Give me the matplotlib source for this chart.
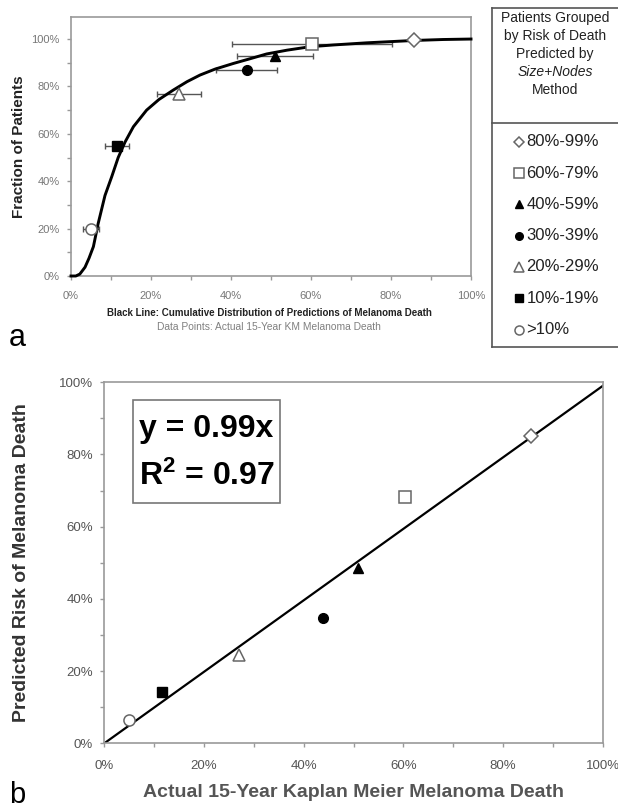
import matplotlib
matplotlib.use("Agg")
import matplotlib.pyplot as plt
from matplotlib.ticker import MultipleLocator, PercentFormatter
from matplotlib.patches import Rectangle

plt.rcParams['font.family'] = ['Liberation Sans', 'DejaVu Sans']
plt.rcParams['mathtext.fontset'] = 'custom'
plt.rcParams['mathtext.rm'] = 'Liberation Sans:bold'
plt.rcParams['mathtext.bf'] = 'Liberation Sans:bold'
plt.rcParams['mathtext.it'] = 'Liberation Sans:bold'

# ---------------- data ----------------
groups = ['80%-99%', '60%-79%', '40%-59%', '30%-39%', '20%-29%', '10%-19%', '>10%']
markers = ['D', 's', '^', 'o', '^', 's', 'o']
filled = [False, False, True, True, False, True, False]
msizes = [7, 8, 8, 8, 9, 8, 8]

actual_km = [0.857, 0.603, 0.51, 0.439, 0.27, 0.116, 0.050]
frac_patients = [0.994, 0.98, 0.928, 0.870, 0.767, 0.549, 0.197]
km_err = [0.0, 0.20, 0.095, 0.077, 0.054, 0.030, 0.019]
predicted = [0.851, 0.683, 0.485, 0.348, 0.245, 0.143, 0.0645]

cdf_x = [0.0, 0.012, 0.022, 0.035, 0.045, 0.056, 0.068, 0.085, 0.102, 0.118, 0.135,
         0.156, 0.189, 0.22, 0.256, 0.29, 0.3225, 0.36, 0.406, 0.45, 0.489, 0.54,
         0.5975, 0.656, 0.739, 0.8575, 0.93, 1.0]
cdf_y = [0.0, 0.0, 0.008, 0.037, 0.075, 0.124, 0.222, 0.34, 0.42, 0.50, 0.565,
         0.63, 0.70, 0.745, 0.785, 0.82, 0.848, 0.873, 0.897, 0.918, 0.937, 0.953,
         0.9675, 0.975, 0.984, 0.994, 0.998, 1.0]

fit_slope = 0.99
fit_x = [0.0, 1.0]
fit_text = 'y = 0.99x'
r2_text = r'R$^{2}$ = 0.97'

legend_header = ['Patients Grouped', 'by Risk of Death', 'Predicted by', 'Size+Nodes', 'Method']

W, H = 618, 809
fig = plt.figure(figsize=(W / 100, H / 100), dpi=100)
fig.patch.set_facecolor('white')

frame_col = '#999999'
open_edge = '#666666'


def style_marker(i):
    if filled[i]:
        return dict(marker=markers[i], markerfacecolor='black', markeredgecolor='black',
                    markersize=msizes[i] - 1, markeredgewidth=1)
    return dict(marker=markers[i], markerfacecolor='white', markeredgecolor=open_edge,
                markersize=msizes[i], markeredgewidth=1.1)


def style_axes(ax, fs, col, pad):
    for s in ax.spines.values():
        s.set_color(frame_col)
        s.set_linewidth(1.2)
    ax.xaxis.set_major_locator(MultipleLocator(0.2))
    ax.xaxis.set_minor_locator(MultipleLocator(0.1))
    ax.yaxis.set_major_locator(MultipleLocator(0.2))
    ax.yaxis.set_minor_locator(MultipleLocator(0.1))
    ax.xaxis.set_major_formatter(PercentFormatter(1.0, decimals=0))
    ax.yaxis.set_major_formatter(PercentFormatter(1.0, decimals=0))
    ax.tick_params(which='both', direction='out', color=frame_col, length=3, width=1)
    ax.tick_params(which='major', labelsize=fs, labelcolor=col, pad=pad)


# ---------------- panel a ----------------
axa = fig.add_axes([71 / W, 1 - 276 / H, 400 / W, 259 / H])
axa.set_xlim(0, 1)
axa.set_ylim(0, 1.093)
style_axes(axa, 8, '#777777', 5)
axa.tick_params(axis='x', pad=8)
axa.plot(cdf_x, cdf_y, color='black', lw=2.1, zorder=3, clip_on=False)
for i in range(len(groups)):
    if km_err[i] > 0:
        axa.errorbar(actual_km[i], frac_patients[i], xerr=km_err[i], fmt='none',
                     ecolor='#555555', elinewidth=1, capsize=2.5, capthick=1, zorder=2)
    axa.plot(actual_km[i], frac_patients[i], linestyle='none', zorder=4, **style_marker(i))
axa.set_ylabel('Fraction of Patients', fontsize=11, fontweight='bold', color='#222222')
axa.yaxis.set_label_coords(-0.113, 0.5)
fig.text(269 / W, 1 - 313 / H,
         'Black Line: Cumulative Distribution of Predictions of Melanoma Death',
         ha='center', va='center', fontsize=7, fontweight='bold', color='#222222')
fig.text(269 / W, 1 - 327 / H, 'Data Points: Actual 15-Year KM Melanoma Death',
         ha='center', va='center', fontsize=7.4, color='#808080')

# ---------------- panel b ----------------
axb = fig.add_axes([104.3 / W, 1 - 743.3 / H, 498.4 / W, 361 / H])
axb.set_xlim(0, 1)
axb.set_ylim(0, 1)
style_axes(axb, 9.5, '#555555', 9)
axb.tick_params(axis='y', pad=5)
axb.plot(fit_x, [fit_slope * v for v in fit_x], color='black', lw=1.6, zorder=2)
for i in range(len(groups)):
    axb.plot(actual_km[i], predicted[i], linestyle='none', zorder=4, **style_marker(i))
axb.set_ylabel('Predicted Risk of Melanoma Death', fontsize=14, fontweight='bold',
               color='#333333')
axb.yaxis.set_label_coords(-0.150, 0.5)
axb.set_xlabel('Actual 15-Year Kaplan Meier Melanoma Death', fontsize=14,
               fontweight='bold', color='#555555')
axb.xaxis.set_label_coords(0.5, -0.113)
axb.add_patch(Rectangle((0.057, 0.665), 0.2955, 0.286, transform=axb.transAxes,
                        facecolor='white', edgecolor='#777777', lw=1.2, zorder=5))
axb.text(0.07, 0.87, fit_text, transform=axb.transAxes, fontsize=23, fontweight='bold',
         va='center', ha='left', zorder=6)
axb.text(0.07, 0.74, r2_text, transform=axb.transAxes, fontsize=23, fontweight='bold',
         va='center', ha='left', zorder=6)

# ---------------- panel labels ----------------
fig.text(17.5 / W, 1 - 338 / H, 'a', fontsize=22, ha='center', va='center')
fig.text(17.5 / W, 1 - 803 / H, 'b', fontsize=21, ha='center', va='baseline')

# ---------------- legend box ----------------
axl = fig.add_axes([488 / W, 1 - 352 / H, 130 / W, 352 / H])
axl.set_xlim(488, 618)
axl.set_ylim(352, 0)
axl.axis('off')
lc = '#555555'
axl.plot([491.7, 491.7], [8, 346.7], color=lc, lw=1.2)
axl.plot([491.7, 640], [8, 8], color=lc, lw=1.2, clip_on=False)
axl.plot([491.7, 640], [122.7, 122.7], color=lc, lw=1.2, clip_on=False)
axl.plot([491.7, 640], [346.7, 346.7], color=lc, lw=1.2, clip_on=False)
for k, line in enumerate(legend_header):
    axl.text(555, 18.3 + k * 18, line, ha='center', va='center', fontsize=10,
             color='#222222', style='italic' if line == 'Size+Nodes' else 'normal')
for i, g in enumerate(groups):
    yy = 141.7 + i * 31.3
    st = style_marker(i)
    st['markersize'] = st['markersize'] - 1.5
    axl.plot(518.5, yy, linestyle='none', **st)
    axl.text(526.5, yy, g, ha='left', va='center', fontsize=12, color='#222222')

fig.savefig('out.png', dpi=100, facecolor='white')
